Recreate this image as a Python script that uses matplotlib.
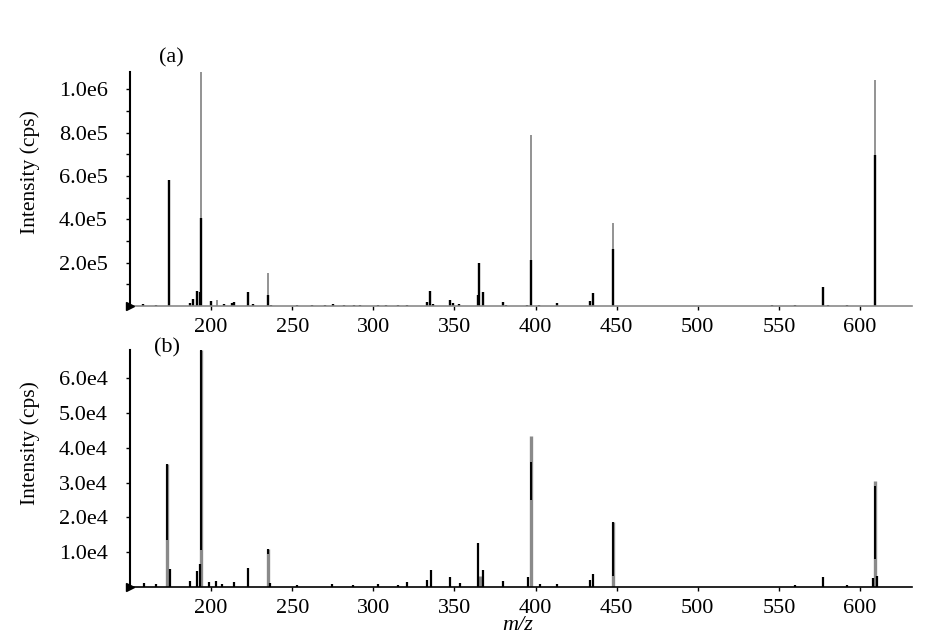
import matplotlib
matplotlib.use('Agg')
import matplotlib.pyplot as plt

plt.rcParams['font.family'] = ['Liberation Serif', 'DejaVu Serif']

# (a) full-scale spectrum: black sticks and grey sticks (taller overlay)
top_black_mz = [158, 166, 174, 187, 189, 191, 193, 194, 200, 208, 213, 214, 223, 226, 235, 237,
                253, 262, 270, 275, 282, 288, 292, 303, 308, 315, 321, 333, 335, 337, 347, 349,
                353, 364.5, 365, 367.5, 380, 382, 395, 397, 402, 413, 433.5, 435.5, 448, 546,
                560, 577, 580, 592, 609]
top_black_int = [8e3, 5e3, 5.8e5, 1.2e4, 3.2e4, 7e4, 6.5e4, 4.07e5, 2.5e4, 8e3, 1.5e4, 2e4, 6.5e4,
                 8e3, 5e4, 6e3, 6e3, 5e3, 5e3, 7e3, 5e3, 6e3, 4e3, 6e3, 4e3, 4e3, 6e3, 2e4, 7e4,
                 8e3, 2.8e4, 1.2e4, 8e3, 5e4, 1.97e5, 6.6e4, 2e4, 6e3, 6e3, 2.12e5, 4e3, 1.2e4,
                 2.3e4, 5.9e4, 2.65e5, 3e3, 3e3, 8.6e4, 5e3, 4e3, 6.96e5]
top_grey_mz = [194, 203.5, 235, 397, 448, 609]
top_grey_int = [1.08e6, 2.8e4, 1.53e5, 7.9e5, 3.82e5, 1.044e6]

# (b) spectrum: grey peaks with black segments on top, plus small black peaks
bot_grey_mz = [173, 194, 235, 366, 397, 448, 609]
bot_grey_int = [3.54e4, 6.82e4, 1.08e4, 3e3, 4.35e4, 1.85e4, 3.03e4]
bot_seg_mz = [173, 194, 235, 397, 448, 609]
bot_seg_lo = [1.35e4, 1.05e4, 9.5e3, 2.5e4, 3e3, 8e3]
bot_seg_hi = [3.54e4, 6.82e4, 1.08e4, 3.6e4, 1.85e4, 2.9e4]
bot_black_mz = [158.5, 166, 174.6, 187, 191.5, 193, 198.7, 202.8, 207, 214, 223, 236.5, 252.7,
                274.3, 287.5, 303, 315, 321, 332.8, 335.3, 347.2, 353.4, 364.7, 367.4, 379.7,
                395.6, 402.6, 413, 433.5, 435.6, 560, 577, 591.7, 607.7, 610.3]
bot_black_int = [1e3, 8e2, 5e3, 1.5e3, 4.5e3, 6.5e3, 1.2e3, 1.5e3, 8e2, 1.2e3, 5.5e3, 1e3, 5e2,
                 8e2, 6e2, 8e2, 6e2, 1.3e3, 1.8e3, 4.8e3, 2.7e3, 1e3, 1.27e4, 4.8e3, 1.5e3,
                 2.9e3, 8e2, 8e2, 1.9e3, 3.6e3, 5e2, 2.7e3, 4e2, 2.5e3, 3e3]

x_ticks = [200, 250, 300, 350, 400, 450, 500, 550, 600]
top_yticks = [2e5, 4e5, 6e5, 8e5, 1e6]
top_ylabels = ['2.0e5', '4.0e5', '6.0e5', '8.0e5', '1.0e6']
top_yminor = [1e5, 3e5, 5e5, 7e5, 9e5]
bot_yticks = [1e4, 2e4, 3e4, 4e4, 5e4, 6e4]
bot_ylabels = ['1.0e4', '2.0e4', '3.0e4', '4.0e4', '5.0e4', '6.0e4']

GREY = '#8a8a8a'
W, H = 936, 636

fig = plt.figure(figsize=(W / 100, H / 100), dpi=100)
ax1 = fig.add_axes([130 / W, 1 - 306 / H, 782 / W, 234 / H])
ax2 = fig.add_axes([130 / W, 1 - 586.6 / H, 782 / W, 236.6 / H])

ax1.vlines(top_black_mz, 0, top_black_int, color='black', lw=1.7)
ax1.vlines(top_grey_mz, 0, top_grey_int, color=GREY, lw=1.3, zorder=1)
ax1.set_ylim(0, 1.08e6)
ax1.set_yticks(top_yticks, top_ylabels)
ax1.set_yticks(top_yminor, minor=True)

ax2.vlines(bot_grey_mz, 0, bot_grey_int, color=GREY, lw=2.4)
ax2.vlines(bot_seg_mz, bot_seg_lo, bot_seg_hi, color='black', lw=1.4)
ax2.vlines(bot_black_mz, 0, bot_black_int, color='black', lw=1.6)
ax2.set_ylim(0, 6.82e4)
ax2.set_yticks(bot_yticks, bot_ylabels)

for ax, base_col in ((ax1, GREY), (ax2, 'black')):
    ax.set_xlim(150, 632)
    ax.set_xticks(x_ticks)
    ax.spines['top'].set_visible(False)
    ax.spines['right'].set_visible(False)
    ax.spines['left'].set_linewidth(1.5)
    ax.spines['bottom'].set_color(base_col)
    ax.spines['bottom'].set_linewidth(1.2)
    ax.tick_params(axis='x', direction='out', length=3, width=1, pad=6, labelsize=16)
    ax.tick_params(axis='y', which='both', direction='out', length=3, width=1, pad=13, labelsize=16)
    ax.plot([150], [0], marker='>', ms=6, color='black', clip_on=False, zorder=5)

fig.text(171 / W, 1 - 58 / H, '(a)', fontsize=16, ha='center', va='center')
fig.text(167 / W, 1 - 348 / H, '(b)', fontsize=16, ha='center', va='center')
fig.text(30 / W, 1 - 172 / H, 'Intensity (cps)', fontsize=15.5, rotation=90, ha='center', va='center')
fig.text(30 / W, 1 - 443 / H, 'Intensity (cps)', fontsize=15.5, rotation=90, ha='center', va='center')
fig.text(518 / W, 1 - 625 / H, 'm/z', fontsize=16, style='italic', ha='center', va='center')

fig.savefig('out.png', dpi=100)
